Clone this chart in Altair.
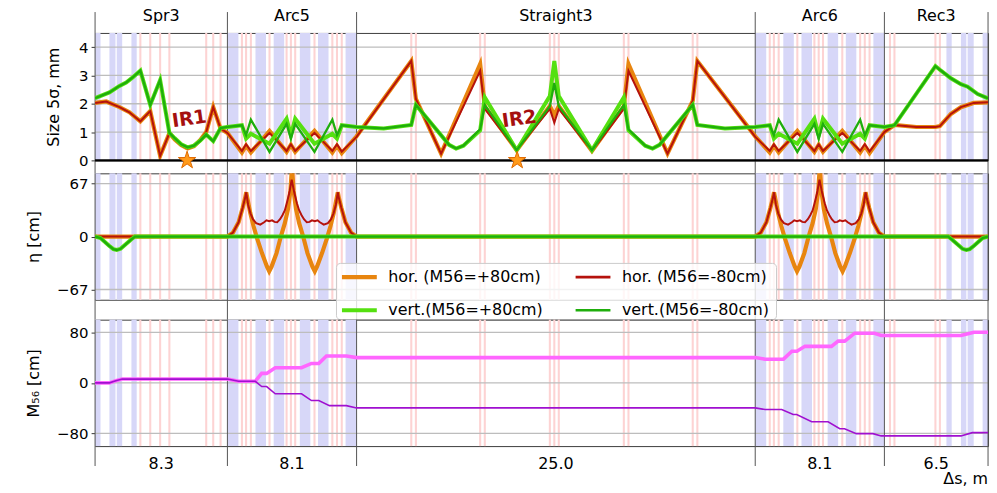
import altair as alt
import pandas as pd

FONT = "DejaVu Sans"

# ---- lattice layout -------------------------------------------------------
SECTIONS = ["Spr3", "Arc5", "Straight3", "Arc6", "Rec3"]
LENGTHS = [8.3, 8.1, 25.0, 8.1, 6.5]
LENGTH_LABELS = ["8.3", "8.1", "25.0", "8.1", "6.5"]

# magnets, local position [m] from each section entrance
SPR_DIPOLES = [(0.0, 0.34), (0.9, 1.28), (1.36, 1.7), (2.28, 2.61)]
SPR_QUADS = [2.84, 3.46, 4.08, 4.66, 6.97, 7.41, 7.87]
ARC_DIPOLES = [(0.0, 0.69), (1.76, 2.42), (2.9, 3.56), (4.54, 5.2), (5.68, 6.34), (7.41, 8.1)]
ARC_QUADS = [0.91, 1.17, 1.47, 2.64, 3.71, 3.98, 4.25, 5.46, 6.58, 6.87, 7.17]
STR_QUADS = [3.43, 3.72, 7.75, 8.04, 12.12, 12.4, 12.68, 16.76, 17.05, 21.08, 21.37]
REC_DIPOLES = [(3.89, 4.22), (4.8, 5.14), (5.22, 5.6), (6.16, 6.5)]
REC_QUADS = [0.35, 0.63, 3.2, 3.48]
QUAD_LENGTH = 0.13

# interaction points [m]
IP_S = [5.77, 26.47]
IP_NAMES = ["IR1", "IR2"]

SERIES = ["hor. (M56=+80cm)", "hor. (M56=-80cm)", "vert.(M56=+80cm)", "vert.(M56=-80cm)"]
COLORS = ["#e8850f", "#b5120c", "#55e010", "#1fae0c"]
WIDTHS = [4.2, 2.0, 4.0, 2.3]

# ---- beam size 5 sigma [mm], (local s, value) per section ------------------
SIZE_HOR_SPR = [(0.0, 2.03), (0.7, 2.08), (1.53, 1.88), (2.15, 1.7), (2.84, 1.38), (3.46, 1.74),
                (4.08, 0.16), (4.66, 0.96), (5.0, 0.74), (5.4, 0.54), (5.8, 0.42), (6.2, 0.5),
                (6.6, 0.72), (6.97, 1.0), (7.41, 1.88), (7.87, 1.12), (8.3, 0.97)]
SIZE_VER_SPR = [(0.0, 2.2), (0.9, 2.4), (1.53, 2.63), (1.95, 2.75), (2.36, 2.93), (2.84, 3.17),
                (3.46, 1.96), (4.08, 2.84), (4.66, 0.97), (5.0, 0.78), (5.4, 0.57), (5.8, 0.46),
                (6.2, 0.52), (6.6, 0.7), (6.97, 0.91), (7.41, 0.68), (7.87, 1.14), (8.3, 1.18)]
SIZE_HOR_ARC_P = [(0.91, 0.28), (1.17, 0.52), (1.47, 0.28), (2.64, 1.04), (3.71, 0.3), (3.98, 0.55),
                  (4.25, 0.3), (5.46, 1.04), (6.58, 0.28), (6.87, 0.52), (7.17, 0.26)]
SIZE_HOR_ARC_M = [(0.91, 0.33), (1.17, 0.57), (1.47, 0.33), (2.64, 0.97), (3.71, 0.33), (3.98, 0.57),
                  (4.25, 0.33), (5.46, 0.97), (6.58, 0.33), (6.87, 0.57), (7.17, 0.31)]
SIZE_VER_ARC_P = [(0.91, 1.24), (1.17, 0.77), (1.47, 0.94), (2.64, 0.59), (3.71, 1.47), (3.98, 0.89),
                  (4.25, 1.47), (5.46, 0.59), (6.58, 0.94), (6.87, 0.77), (7.17, 1.24)]
SIZE_VER_ARC_M = [(0.91, 1.24), (1.17, 0.89), (1.47, 1.44), (2.64, 0.3), (3.71, 1.29), (3.98, 0.77),
                  (4.25, 1.29), (5.46, 0.3), (6.58, 1.44), (6.87, 0.89), (7.17, 1.24)]
SIZE_HOR_STR_P = [(0.0, 0.85), (3.43, 3.51), (3.72, 2.17), (5.3, 0.24), (7.75, 3.4), (8.04, 1.9),
                  (10.04, 0.36), (12.12, 1.92), (12.4, 1.6), (12.68, 1.92), (14.76, 0.33),
                  (16.76, 1.9), (17.05, 3.4), (19.5, 0.24), (21.08, 2.1), (21.37, 3.51), (25.0, 0.85)]
SIZE_HOR_STR_M = [(0.0, 0.83), (3.43, 3.51), (3.72, 2.17), (5.3, 0.24), (7.75, 3.16), (8.04, 1.82),
                  (10.04, 0.36), (12.12, 1.82), (12.4, 1.33), (12.68, 1.82), (14.76, 0.33),
                  (16.76, 1.82), (17.05, 3.16), (19.5, 0.24), (21.08, 2.1), (21.37, 3.51), (25.0, 0.83)]
SIZE_VER_STR_P = [(0.0, 1.18), (1.7, 1.13), (3.43, 1.25), (3.72, 1.96), (5.8, 0.55), (6.24, 0.42),
                  (6.7, 0.52), (7.75, 1.06), (8.04, 2.23), (10.04, 0.36), (12.12, 2.27), (12.4, 3.51),
                  (12.68, 2.27), (14.76, 0.36), (16.76, 2.23), (17.05, 1.06), (18.1, 0.52),
                  (18.56, 0.42), (19.0, 0.55), (21.08, 1.96), (21.37, 1.25), (23.1, 1.13), (25.0, 1.18)]
SIZE_VER_STR_M = [(0.0, 1.18), (1.7, 1.13), (3.43, 1.25), (3.72, 1.96), (5.8, 0.55), (6.24, 0.42),
                  (6.7, 0.52), (7.75, 1.1), (8.04, 1.95), (10.04, 0.36), (12.12, 1.91), (12.4, 2.73),
                  (12.68, 1.91), (14.76, 0.36), (16.76, 1.95), (17.05, 1.1), (18.1, 0.52),
                  (18.56, 0.42), (19.0, 0.55), (21.08, 1.96), (21.37, 1.25), (23.1, 1.13), (25.0, 1.18)]
SIZE_HOR_REC = [(0.0, 1.0), (0.63, 1.25), (2.0, 1.18), (3.2, 1.18), (3.48, 1.21), (4.17, 1.64),
                (4.8, 1.88), (5.6, 2.03), (6.5, 2.05)]
SIZE_VER_REC = [(0.0, 1.18), (0.63, 1.24), (3.2, 3.33), (3.48, 3.2), (4.17, 2.9), (4.8, 2.69),
                (5.22, 2.6), (5.85, 2.34), (6.5, 2.19)]

# ---- dispersion eta [cm] ---------------------------------------------------
ETA_ZERO_SPR = [(0.0, 0.0), (8.3, 0.0)]
ETA_VER_SPR = [(0.0, 0.0), (0.34, -2.0), (0.9, -12.0), (1.15, -16.0), (1.36, -17.0), (1.6, -15.5),
               (2.28, -3.5), (2.5, 0.0), (8.3, 0.0)]
ETA_ZERO_ARC = [(0.0, 0.0), (8.1, 0.0)]
ETA_HOR_ARC_P = [(0.0, 0.0), (0.35, 5), (0.7, 18), (0.95, 36), (1.1, 48), (1.18, 56), (1.43, 30),
                 (1.64, 13), (1.85, -1.6), (2.16, -20.6), (2.47, -37.5), (2.62, -44), (2.77, -38),
                 (3.08, -21), (3.35, 0), (3.6, 17), (3.8, 35), (3.95, 58), (4.05, 88), (4.15, 58),
                 (4.3, 35), (4.5, 17), (4.75, 0), (5.02, -21), (5.33, -38), (5.48, -44),
                 (5.63, -37.5), (5.94, -20.6), (6.25, -1.6), (6.46, 13), (6.67, 30), (6.92, 56),
                 (7.0, 48), (7.15, 36), (7.4, 18), (7.75, 5), (8.1, 0.0)]
ETA_HOR_ARC_M = [(0.0, 0.0), (0.35, 5), (0.7, 18), (0.95, 36), (1.1, 48), (1.18, 56), (1.3, 40),
                 (1.45, 29), (1.6, 22), (1.8, 17), (2.06, 15), (2.3, 18), (2.45, 20.5), (2.62, 19.5),
                 (2.8, 20.5), (2.95, 18.5), (3.12, 18), (3.3, 22), (3.45, 27), (3.6, 33), (3.72, 42),
                 (3.88, 55), (4.03, 72), (4.2, 55), (4.36, 42), (4.5, 33), (4.65, 27), (4.8, 22),
                 (4.98, 18), (5.15, 18.5), (5.3, 20.5), (5.48, 19.5), (5.65, 20.5), (5.8, 18),
                 (6.04, 15), (6.3, 17), (6.5, 22), (6.65, 29), (6.8, 40), (6.92, 56), (7.0, 48),
                 (7.15, 36), (7.4, 18), (7.75, 5), (8.1, 0.0)]
ETA_ZERO_STR = [(0.0, 0.0), (25.0, 0.0)]
ETA_ZERO_REC = [(0.0, 0.0), (6.5, 0.0)]
ETA_VER_REC = [(0.0, 0.0), (4.0, 0.0), (4.22, -3.5), (4.9, -15.5), (5.14, -17.0), (5.35, -16.0),
               (5.6, -12.0), (6.16, -2.0), (6.5, 0.0)]

# ---- M56 [cm] ----------------------------------------------------------------
M56_SPR = [(0.0, 0.0), (0.9, 0.0), (1.3, 3.5), (1.7, 6.0), (8.3, 6.0)]
M56_ARC5_P = [(0.7, 2.5), (1.75, 2.5), (2.15, 15.0), (2.46, 15.0), (3.0, 24.0), (4.65, 24.0),
              (5.27, 30.7), (5.73, 30.7), (6.21, 42.6), (7.46, 42.6), (8.1, 40.0)]
M56_ARC5_M = [(0.7, 2.5), (1.75, 2.5), (2.15, -5.8), (2.46, -5.8), (3.0, -17.2), (4.65, -17.2),
              (5.27, -28.0), (5.73, -28.0), (6.4, -36.0), (7.46, -36.0), (8.1, -39.6)]
M56_STR_P = [(0.0, 40.0), (25.0, 40.0)]
M56_STR_M = [(0.0, -39.6), (25.0, -39.6)]
M56_ARC6_P = [(0.62, 37.5), (1.77, 37.5), (2.3, 50.0), (2.61, 50.0), (3.12, 57.8), (4.78, 57.8),
              (5.2, 66.0), (5.61, 66.0), (6.24, 78.6), (7.48, 78.6), (7.9, 75.0), (8.1, 75.0)]
M56_ARC6_M = [(0.62, -42.2), (1.66, -42.2), (2.38, -50.0), (2.6, -50.0), (3.54, -61.5),
              (4.57, -61.5), (5.3, -72.5), (5.6, -72.5), (6.34, -80.3), (7.38, -80.3),
              (7.9, -83.9), (8.1, -83.9)]
M56_REC_P = [(0.0, 75.0), (4.8, 75.0), (5.62, 80.0), (6.5, 80.0)]
M56_REC_M = [(0.0, -83.9), (4.8, -83.9), (5.52, -78.7), (6.5, -78.7)]

# ---- helpers -------------------------------------------------------------------
STARTS = [round(sum(LENGTHS[:i]), 4) for i in range(len(LENGTHS) + 1)]
TOTAL = STARTS[-1]


def along(*parts):
    rows = []
    for start, pts in zip(STARTS, parts):
        rows += [(round(start + s, 4), v) for s, v in pts]
    return rows


def frame(series_rows):
    recs = []
    for name, rows in series_rows:
        recs += [{"s": s, "v": v, "series": name} for s, v in rows]
    return pd.DataFrame(recs)


size_df = frame([
    (SERIES[0], along(SIZE_HOR_SPR, SIZE_HOR_ARC_P, SIZE_HOR_STR_P, SIZE_HOR_ARC_P, SIZE_HOR_REC)),
    (SERIES[1], along(SIZE_HOR_SPR, SIZE_HOR_ARC_M, SIZE_HOR_STR_M, SIZE_HOR_ARC_M, SIZE_HOR_REC)),
    (SERIES[2], along(SIZE_VER_SPR, SIZE_VER_ARC_P, SIZE_VER_STR_P, SIZE_VER_ARC_P, SIZE_VER_REC)),
    (SERIES[3], along(SIZE_VER_SPR, SIZE_VER_ARC_M, SIZE_VER_STR_M, SIZE_VER_ARC_M, SIZE_VER_REC)),
])
eta_df = frame([
    (SERIES[0], along(ETA_ZERO_SPR, ETA_HOR_ARC_P, ETA_ZERO_STR, ETA_HOR_ARC_P, ETA_ZERO_REC)),
    (SERIES[1], along(ETA_ZERO_SPR, ETA_HOR_ARC_M, ETA_ZERO_STR, ETA_HOR_ARC_M, ETA_ZERO_REC)),
    (SERIES[2], along(ETA_VER_SPR, ETA_ZERO_ARC, ETA_ZERO_STR, ETA_ZERO_ARC, ETA_VER_REC)),
    (SERIES[3], along(ETA_VER_SPR, ETA_ZERO_ARC, ETA_ZERO_STR, ETA_ZERO_ARC, ETA_VER_REC)),
])
m56_df = frame([
    ("plus", along(M56_SPR, M56_ARC5_P, M56_STR_P, M56_ARC6_P, M56_REC_P)),
    ("minus", along(M56_SPR, M56_ARC5_M, M56_STR_M, M56_ARC6_M, M56_REC_M)),
])

# magnet bands
band_recs = []
section_magnets = [(SPR_DIPOLES, SPR_QUADS), (ARC_DIPOLES, ARC_QUADS), ([], STR_QUADS),
                   (ARC_DIPOLES, ARC_QUADS), (REC_DIPOLES, REC_QUADS)]
for start, (dips, quads) in zip(STARTS, section_magnets):
    for a, b in dips:
        band_recs.append({"s": start + a, "e": start + b, "kind": "dipole"})
    for q in quads:
        band_recs.append({"s": start + q - QUAD_LENGTH / 2, "e": start + q + QUAD_LENGTH / 2,
                          "kind": "quad"})
bands_df = pd.DataFrame(band_recs)

bounds_df = pd.DataFrame({"s": STARTS})
sections_df = pd.DataFrame({
    "s": [(STARTS[i] + STARTS[i + 1]) / 2 for i in range(len(SECTIONS))],
    "name": SECTIONS,
    "length": LENGTH_LABELS,
})
ip_df = pd.DataFrame({"s": IP_S, "v": [0.0] * len(IP_S), "name": IP_NAMES})
one_row = pd.DataFrame({"k": [0]})

# ---- chart building ---------------------------------------------------------------
W = 897
H_TOP, H_MID, H_BOT = 128, 127, 127
GAP1, GAP2 = 13, 20

X = alt.X("s:Q", scale=alt.Scale(domain=[0, TOTAL], nice=False, zero=False), axis=None)
STAR = ("M0,-1L0.2245,-0.309L0.951,-0.309L0.3633,0.118L0.5878,0.809L0,0.382"
        "L-0.5878,0.809L-0.3633,0.118L-0.951,-0.309L-0.2245,-0.309Z")


def y_enc(domain, ticks, title, tpad):
    return alt.Y(
        "v:Q",
        scale=alt.Scale(domain=domain, nice=False, zero=False),
        axis=alt.Axis(values=ticks, title=title, grid=False, domain=False, tickSize=4,
                      tickColor="#333333", labelFontSize=15, labelFont=FONT, labelColor="black",
                      labelPadding=3, titleFontSize=16, titleFont=FONT, titleFontWeight="normal",
                      titleColor="black", titlePadding=tpad),
    )


def backdrop(y, grid_values, rule_bottom, rule_top=0):
    dip = alt.Chart(bands_df[bands_df.kind == "dipole"]).mark_rect(color="#d7d7f8").encode(
        x=X, x2="e:Q")
    quad = alt.Chart(bands_df[bands_df.kind == "quad"]).mark_rect(color="#fdd3d3").encode(
        x=X, x2="e:Q")
    grid = alt.Chart(pd.DataFrame({"v": grid_values})).mark_rule(
        color="#bdbdbd", strokeWidth=1.3).encode(y=y)
    sect = alt.Chart(bounds_df).mark_rule(color="#555555", strokeWidth=1).encode(
        x=X, y=alt.value(rule_top), y2=alt.value(rule_bottom))
    return [dip, quad, grid, sect]


def series_lines(df, y):
    return [
        alt.Chart(df[df.series == name]).mark_line(strokeWidth=w, color=col, clip=True).encode(
            x=X, y=y)
        for name, col, w in zip(SERIES, COLORS, WIDTHS)
    ]


def legend_layers():
    # two-column key, semi-transparent box
    box = alt.Chart(one_row).mark_rect(
        fill="white", fillOpacity=0.8, stroke="#cccccc", strokeWidth=1, cornerRadius=4).encode(
        x=alt.value(242.5), x2=alt.value(684.5), y=alt.value(90.5), y2=alt.value(147))
    layers = [box]
    for i, (name, col, w) in enumerate(zip(SERIES, COLORS, WIDTHS)):
        lx = 248 + (i % 2) * 234.7
        ly = 104.3 + (i // 2) * 33.3
        layers.append(alt.Chart(one_row).mark_rule(color=col, strokeWidth=max(w, 2.6)).encode(
            x=alt.value(lx), x2=alt.value(lx + 35), y=alt.value(ly)))
        layers.append(alt.Chart(one_row).mark_text(
            text=name, fontSize=16, font=FONT, align="left", baseline="middle",
            color="black").encode(x=alt.value(lx + 46.5), y=alt.value(ly)))
    return layers


def spacer(h):
    return alt.Chart(bounds_df).mark_rule(opacity=0).encode(x=X).properties(
        width=W, height=h, view=alt.ViewBackground(stroke="transparent"))


# top: beam size
y_top = y_enc([0, 4.5], [0, 1, 2, 3, 4], "Size 5σ, mm", 17)
top_layers = backdrop(y_top, [1, 2, 3, 4], H_TOP + GAP1, rule_top=-21)
zero_line = alt.Chart(pd.DataFrame({"v": [0.0]})).mark_rule(color="black", strokeWidth=2.5).encode(
    y=y_top)
headers = alt.Chart(sections_df).mark_text(fontSize=16, font=FONT, baseline="middle",
                                            color="black").encode(
    x=X, y=alt.value(-17), text="name:N")
stars = alt.Chart(ip_df).mark_point(shape=STAR, size=340, filled=True, fill="#ff9a1a",
                                    stroke="#e06a00", strokeWidth=1, opacity=1).encode(
    x=X, y=y_top)
ir_labels = alt.Chart(ip_df).mark_text(fontSize=19, font=FONT, fontWeight="bold",
                                       color="#a50f0f", angle=352, dx=8, dy=-41).encode(
    x=X, y=y_top, text="name:N")
top = alt.layer(*top_layers, *series_lines(size_df, y_top), zero_line, stars, ir_labels,
                headers).properties(width=W, height=H_TOP)

# middle: dispersion, with the key
y_mid = y_enc([-80, 80], [-67, 0, 67], "η [cm]", 15)
mid = alt.layer(*backdrop(y_mid, [-67, 67], H_MID + GAP2),
                *series_lines(eta_df, y_mid), *legend_layers()).properties(width=W, height=H_MID)

# bottom: M56
y_bot = y_enc([-100, 100], [-80, 0, 80], "M₅₆ [cm]", 15)
m_plus = alt.Chart(m56_df[m56_df.series == "plus"]).mark_line(
    color="#ff66ff", strokeWidth=3.6).encode(x=X, y=y_bot)
m_minus = alt.Chart(m56_df[m56_df.series == "minus"]).mark_line(
    color="#a010d0", strokeWidth=1.6).encode(x=X, y=y_bot)
lengths = alt.Chart(sections_df).mark_text(fontSize=16, font=FONT, baseline="middle",
                                           color="black").encode(
    x=X, y=alt.value(H_BOT + 18), text="length:N")
axis_name = alt.Chart(pd.DataFrame({"t": ["Δs, m"]})).mark_text(
    fontSize=16, font=FONT, align="right", baseline="middle", color="black").encode(
    x=alt.value(W), y=alt.value(H_BOT + 33), text="t:N")
bot = alt.layer(*backdrop(y_bot, [-80, 0, 80], H_BOT + 20), m_plus, m_minus, lengths,
                axis_name).properties(width=W, height=H_BOT)

chart = alt.vconcat(
    top, spacer(GAP1), mid, spacer(GAP2), bot, spacing=0, bounds="flush",
).configure_view(
    stroke="#3c3c3c", strokeWidth=1,
).properties(
    padding={"left": 24.5, "top": 6, "right": 1, "bottom": 0},
    background="white",
)

chart.save("out.html", embed_options={"renderer": "svg", "actions": False})
